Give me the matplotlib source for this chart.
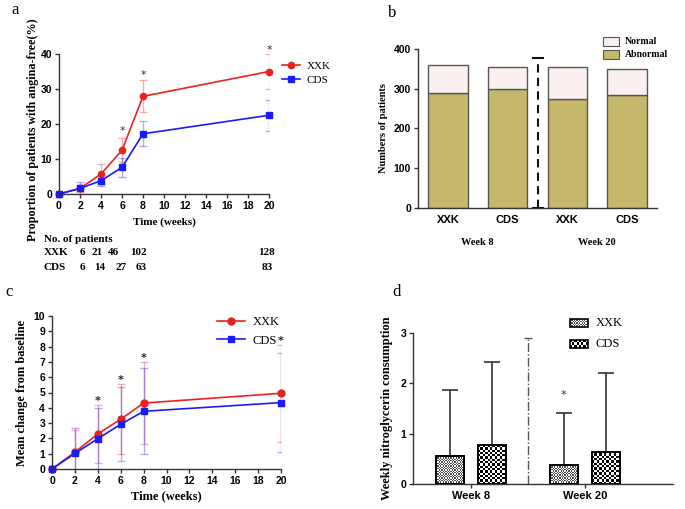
import matplotlib
matplotlib.use("Agg")
import matplotlib.pyplot as plt
import numpy as np
from matplotlib.patches import Rectangle
from matplotlib.colors import ListedColormap

# ---- data ----
weeks = [0, 2, 4, 6, 8, 20]

# a: proportion angina-free (%)
a_xxk = [0, 1.6, 5.7, 12.5, 27.9, 35.0]
a_xxk_err = [0, 1.0, 2.9, 3.4, 4.6, 4.9]
a_cds = [0, 1.6, 3.8, 7.6, 17.2, 22.5]
a_cds_err = [0, 1.8, 1.6, 2.6, 3.6, 4.4]
a_star_x = [6, 8, 20]
a_star_y = [18.0, 34.0, 41.0]
pat_weeks = [2, 4, 6, 8, 20]
pat_xxk = [6, 21, 46, 102, 128]
pat_cds = [6, 14, 27, 63, 83]

# b: ECG status
b_labels = ["XXK", "CDS", "XXK", "CDS"]
b_groups = ["Week 8", "Week 20"]
b_abnormal = [290, 300, 273, 285]
b_total = [360, 355, 354, 349]

# c: mean change from baseline
c_xxk = [0, 1.1, 2.29, 3.25, 4.31, 4.95]
c_xxk_err = [0, 1.45, 1.9, 2.3, 2.68, 3.17]
c_cds = [0, 1.02, 1.98, 2.92, 3.77, 4.34]
c_cds_err = [0, 1.64, 1.98, 2.42, 2.81, 3.22]
c_star_x = [4, 6, 8, 20]
c_star_y = [4.45, 5.8, 7.25, 8.35]

# d: weekly nitroglycerin consumption
d_groups = ["Week 8", "Week 20"]
d_xxk = [0.55, 0.37]
d_xxk_err = [1.31, 1.05]
d_cds = [0.77, 0.64]
d_cds_err = [1.66, 1.56]

# ---- style ----
W, H = 685, 509
SERIF = "Liberation Serif"
SANS = "Liberation Sans"
RED = "#e8231f"
BLUE = "#1a1aff"

fig = plt.figure(figsize=(W / 100, H / 100), dpi=100)


def px_axes(l, t, r, b):
    return fig.add_axes([l / W, 1 - b / H, (r - l) / W, (b - t) / H])


def style_axes(ax):
    for s in ["top", "right"]:
        ax.spines[s].set_visible(False)
    for s in ["left", "bottom"]:
        ax.spines[s].set_linewidth(1.0)
        ax.spines[s].set_color("#333333")
    ax.tick_params(direction="out", length=3, width=1, color="#333333", pad=2)
    for lab in ax.get_xticklabels() + ax.get_yticklabels():
        lab.set_fontfamily(SANS)
        lab.set_fontweight("bold")
        lab.set_fontsize(7.5)


def checker(ax, x0, x1, y0, y1, cell_px, clip, c1, c2, transform=None):
    # fill a patch with a checkerboard image clipped to it
    tr = transform if transform is not None else ax.transData
    p0 = tr.transform((x0, y0))
    p1 = tr.transform((x1, y1))
    nx = max(2, int(round(abs(p1[0] - p0[0]) / cell_px)))
    ny = max(2, int(round(abs(p1[1] - p0[1]) / cell_px)))
    grid = (np.add.outer(np.arange(ny), np.arange(nx)) % 2).astype(float)
    im = ax.imshow(grid, extent=(x0, x1, y0, y1), cmap=ListedColormap([c1, c2]),
                   interpolation="nearest", aspect="auto", transform=tr,
                   zorder=clip.get_zorder() - 0.1)
    im.set_clip_path(clip)
    return im


# ===== panel a =====
ax = px_axes(59, 54, 269, 194)
ax.errorbar(weeks, a_xxk, yerr=a_xxk_err, fmt="none", ecolor=RED, alpha=0.35,
            capsize=3, elinewidth=1)
ax.errorbar(weeks, a_cds, yerr=a_cds_err, fmt="none", ecolor=BLUE, alpha=0.35,
            capsize=3, elinewidth=1)
ax.plot(weeks, a_xxk, color=RED, marker="o", ms=4.5, lw=1.2, label="XXK", clip_on=False)
ax.plot(weeks, a_cds, color=BLUE, marker="s", ms=4.5, lw=1.2, label="CDS", clip_on=False)
for x, y in zip(a_star_x, a_star_y):
    ax.text(x, y, "*", ha="center", va="center", fontsize=8, color="#333333")
ax.set_xlim(0, 20)
ax.set_ylim(0, 40)
ax.set_xticks(range(0, 21, 2))
ax.set_yticks(range(0, 41, 10))
style_axes(ax)
ax.legend(loc="upper left", bbox_to_anchor=(1.04, 0.98), frameon=False,
          prop={"family": SERIF, "size": 8}, handlelength=1.6, handletextpad=0.6,
          labelspacing=0.4, borderaxespad=0)
ax.set_xlabel("Time (weeks)", fontfamily=SERIF, fontweight="bold", fontsize=8, labelpad=5)
fig.text(33 / W, 1 - 130 / H, "Proportion of patients with angina-free(%)", rotation=90,
         ha="center", va="center", fontfamily=SERIF, fontweight="bold", fontsize=8.7)
fig.text(15 / W, 1 - 10 / H, "a", fontfamily=SERIF, fontsize=12, va="center", ha="center")

# patient count table
tab_x = [82, 97, 113, 138, 267]
cds_x = [82, 100, 121, 141, 267]
fig.text(44 / W, 1 - 239 / H, "No. of patients", fontfamily=SERIF, fontweight="bold",
         fontsize=8, va="center")
fig.text(44 / W, 1 - 253 / H, "XXK", fontfamily=SERIF, fontweight="bold", fontsize=8, va="center")
fig.text(44 / W, 1 - 268 / H, "CDS", fontfamily=SERIF, fontweight="bold", fontsize=8, va="center")
for px, n in zip(tab_x, pat_xxk):
    fig.text(px / W, 1 - 253 / H, str(n), fontfamily=SERIF, fontweight="bold", fontsize=8,
             va="center", ha="center")
for px, n in zip(cds_x, pat_cds):
    fig.text(px / W, 1 - 268 / H, str(n), fontfamily=SERIF, fontweight="bold", fontsize=8,
             va="center", ha="center")

# ===== panel b =====
ax = px_axes(418, 49, 657, 208)
xb = np.arange(len(b_labels))
normal = [t - a for t, a in zip(b_total, b_abnormal)]
ax.bar(xb, b_abnormal, width=0.66, color="#c6b86b", edgecolor="#555555", linewidth=1)
ax.bar(xb, normal, bottom=b_abnormal, width=0.66, color="#f9f0ef", edgecolor="#555555",
       linewidth=1)
ax.plot([1.5, 1.5], [0, 378], color="#111111", lw=1.5, ls=(0, (4, 2.5)), clip_on=False)
ax.plot([1.5, 1.5], [0, 378], ls="none", marker="_", ms=8, mew=1.5, color="#111111",
        clip_on=False)
ax.set_xlim(-0.5, 3.5)
ax.set_ylim(0, 400)
ax.set_xticks(xb)
ax.set_xticklabels(b_labels)
ax.set_yticks(range(0, 401, 100))
style_axes(ax)
ax.tick_params(axis="x", length=0, pad=5)
for lab in ax.get_xticklabels():
    lab.set_fontsize(8)
for gx, g in zip([0.5, 2.5], b_groups):
    ax.text(gx, -0.215, g, transform=ax.get_xaxis_transform(), ha="center", va="center",
            fontfamily=SERIF, fontweight="bold", fontsize=7.5)
ax.set_ylabel("Numbers of patients", fontfamily=SERIF, fontweight="bold", fontsize=7.5,
              labelpad=4)
for i, (lab, col) in enumerate([("Normal", "#f9f0ef"), ("Abnormal", "#c6b86b")]):
    yy = 1 - (42 + 13 * i) / H
    fig.patches.append(Rectangle((603 / W, yy - 3.5 / H), 16 / W, 8 / H, facecolor=col,
                                 edgecolor="#555555", lw=0.8, transform=fig.transFigure))
    fig.text(625 / W, yy + 0.5 / H, lab, fontfamily=SERIF, fontweight="bold", fontsize=7,
             va="center")
fig.text(392 / W, 1 - 13 / H, "b", fontfamily=SERIF, fontsize=12, va="center", ha="center")

# ===== panel c =====
ax = px_axes(52, 316, 281, 469)
ax.errorbar(weeks, c_xxk, yerr=c_xxk_err, fmt="none", ecolor=RED, alpha=0.35,
            capsize=3, elinewidth=1)
ax.errorbar(weeks, c_cds, yerr=c_cds_err, fmt="none", ecolor=BLUE, alpha=0.35,
            capsize=3, elinewidth=1)
ax.plot(weeks, c_xxk, color=RED, marker="o", ms=5, lw=1.2, label="XXK", clip_on=False)
ax.plot(weeks, c_cds, color=BLUE, marker="s", ms=5, lw=1.2, label="CDS", clip_on=False)
for x, y in zip(c_star_x, c_star_y):
    ax.text(x, y, "*", ha="center", va="center", fontsize=8, fontweight="bold", color="#222222")
ax.set_xlim(0, 20)
ax.set_ylim(0, 10)
ax.set_xticks(range(0, 21, 2))
ax.set_yticks(range(0, 11))
style_axes(ax)
ax.legend(loc="upper left", bbox_to_anchor=(0.7, 1.03), frameon=False,
          prop={"family": SERIF, "size": 9}, handlelength=2.2, handletextpad=0.6,
          labelspacing=0.5, borderaxespad=0)
ax.set_xlabel("Time (weeks)", fontfamily=SERIF, fontweight="bold", fontsize=9, labelpad=3)
ax.set_ylabel("Mean change from baseline", fontfamily=SERIF, fontweight="bold", fontsize=9,
              labelpad=4)
fig.text(9 / W, 1 - 292 / H, "c", fontfamily=SERIF, fontsize=12, va="center", ha="center")

# ===== panel d =====
ax = px_axes(413, 333, 673, 484)
ax.set_xlim(-0.87, 5.25)
ax.set_ylim(0, 3)
pos_xxk = np.array([0.0, 2.68])
pos_cds = np.array([1.0, 3.67])
bw = 0.66
fills = [("#4a4a4a", "#ffffff", 1.3), ("#000000", "#ffffff", 2.3)]
for pos, vals, errs, (c1, c2, cell) in [(pos_xxk, d_xxk, d_xxk_err, fills[0]),
                                        (pos_cds, d_cds, d_cds_err, fills[1])]:
    bars = ax.bar(pos, vals, width=bw, facecolor="none", edgecolor="black", linewidth=1.4,
                  zorder=3)
    for b in bars:
        checker(ax, b.get_x(), b.get_x() + b.get_width(), 0, b.get_height(), cell, b, c1, c2)
    ax.errorbar(pos, vals, yerr=[np.zeros(len(vals)), errs], fmt="none", ecolor="#333333",
                elinewidth=1.2, capsize=6, capthick=1.2, zorder=2)
ax.plot([1.84, 1.84], [0, 2.9], color="#555555", lw=1, ls="-.")
ax.plot([1.84], [2.9], marker="_", ms=6, color="#555555")
ax.text(pos_xxk[1], 1.77, "*", ha="center", va="center", fontsize=8, color="#333333")
ax.set_xticks([(a + b) / 2 for a, b in zip(pos_xxk, pos_cds)])
ax.set_xticklabels(d_groups)
ax.set_yticks([0, 1, 2, 3])
style_axes(ax)
for lab in ax.get_xticklabels():
    lab.set_fontsize(8)
ax.set_ylabel("Weekly nitroglycerin consumption", fontfamily=SERIF, fontweight="bold",
              fontsize=9, labelpad=5)
for i, (lab, (c1, c2, cell)) in enumerate(zip(["XXK", "CDS"], fills)):
    yc = 1 - (323 + 21 * i) / H
    x0, x1 = 570 / W, 588 / W
    y0, y1 = yc - 4 / H, yc + 4 / H
    r = Rectangle((x0, y0), x1 - x0, y1 - y0, facecolor="none", edgecolor="black", lw=1.2,
                  transform=fig.transFigure, zorder=5)
    fig.patches.append(r)
    im = checker(ax, x0, x1, y0, y1, cell, r, c1, c2, transform=fig.transFigure)
    im.set_clip_on(True)
    fig.text(596 / W, yc, lab, fontfamily=SERIF, fontsize=9, va="center")
fig.text(397 / W, 1 - 292 / H, "d", fontfamily=SERIF, fontsize=12, va="center", ha="center")

fig.savefig("out.png", dpi=100)
